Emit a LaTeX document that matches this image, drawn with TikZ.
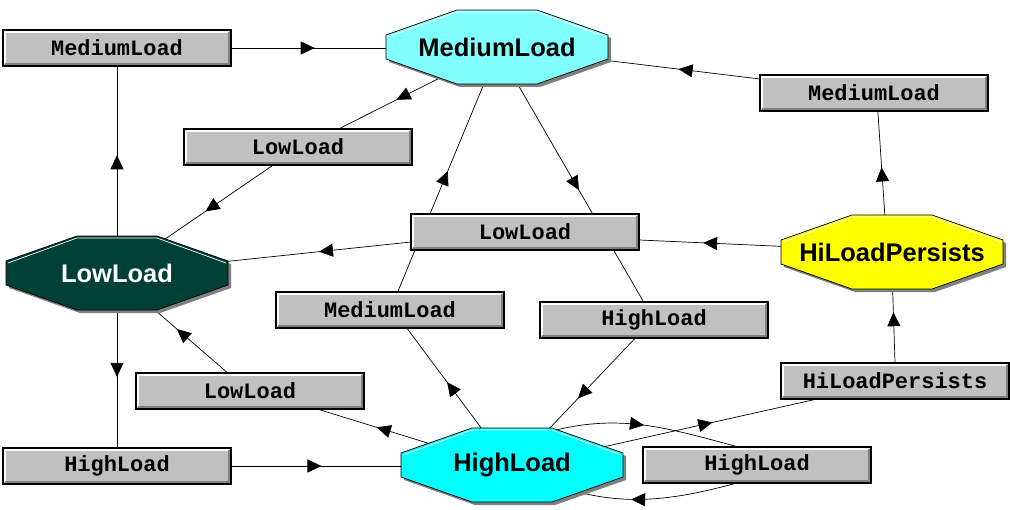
\documentclass[tikz,border=0pt]{standalone}
\usepackage{fontspec}
\usepackage{xcolor}
\usepackage{tikz}
\usetikzlibrary{backgrounds,arrows.meta,decorations.markings}

\newfontfamily\statefamily{Liberation Sans}
\newfontfamily\boxfamily{Liberation Mono}
\definecolor{medcyan}{RGB}{128,255,255}
\definecolor{highcyan}{RGB}{0,255,255}
\definecolor{lowgreen}{RGB}{0,64,56}
\definecolor{hiyellow}{RGB}{255,255,0}
\definecolor{boxgray}{RGB}{192,192,192}
\definecolor{shadegray}{RGB}{128,128,128}

\begin{document}
\begin{tikzpicture}[
        x=0.02cm, y=-0.02cm,
        every node/.style={inner sep=0pt, outer sep=0pt},
        state/.style={minimum width=3.2cm, minimum height=0.68cm, font=\statefamily\bfseries\fontsize{14.5}{16}\selectfont},
        trans/.style={draw, line width=0.8pt, fill=boxgray, minimum width=4.56cm, minimum height=0.72cm,
            font=\boxfamily\bfseries\fontsize{12.5}{14}\selectfont,
            path picture={
                \draw[white, line width=1pt] ([shift={(2,-2)}]path picture bounding box.south west) |- ([shift={(-2,2)}]path picture bounding box.north east);
                \draw[shadegray, line width=1.4pt] ([shift={(2,-2)}]path picture bounding box.south west) -| ([shift={(-2,2)}]path picture bounding box.north east);
            }},
        midarrow/.style={postaction={decorate, decoration={markings, mark=at position #1 with {\arrow{Triangle[length=0.28cm, width=0.26cm]}}}}},
    ]
    \useasboundingbox (0,0) rectangle (1010,510);

    \node[state] (medium) at (497,47) {MediumLoad};
    \node[state, text=white] (low) at (117,273) {LowLoad};
    \node[state] (hipers) at (892,252) {HiLoadPersists};
    \node[state] (high) at (512,465) {HighLoad};

    \node[trans] (med1) at (117,48) {MediumLoad};
    \node[trans] (low1) at (298,147) {LowLoad};
    \node[trans] (med2) at (874,93) {MediumLoad};
    \node[trans] (low2) at (525,232) {LowLoad};
    \node[trans] (med3) at (390,310) {MediumLoad};
    \node[trans] (high1) at (654,320) {HighLoad};
    \node[trans] (low3) at (250,391) {LowLoad};
    \node[trans] (high2) at (117,466) {HighLoad};
    \node[trans] (hip1) at (895,381) {HiLoadPersists};
    \node[trans] (high3) at (757,465) {HighLoad};

    \begin{scope}[on background layer, line width=0.6pt]
        \draw[midarrow=0.53] (low.north) -- (med1.south);
        \draw[midarrow=0.45] (med1.east) -- (medium.west |- med1.east);
        \draw[midarrow=0.55] (medium.210) -- (low1.24);
        \draw[midarrow=0.51] (low1.216) -- (low.36);
        \draw[midarrow=0.545] (hipers.109) -- (med2.-78);
        \draw[midarrow=0.445] (med2.173) -- (medium.-7);
        \draw[midarrow=0.6] (hipers.177) -- (low2.-4);
        \draw[midarrow=0.43] (low2.185) -- (low.6);
        \draw[midarrow=0.55] (high.133) -- (med3.-47);
        \draw[midarrow=0.53] (med3.67) -- (medium.254);
        \draw[midarrow=0.53] (medium.-62) -- (high1.120);
        \draw[midarrow=0.55] (high1.224) -- (high.42);
        \draw[midarrow=0.53] (high.166) -- (low3.-15);
        \draw[midarrow=0.53] (low3.141) -- (low.-49);
        \draw[midarrow=0.55] (low.south) -- (high2.north);
        \draw[midarrow=0.45] (high2.east) -- (high.west |- high2.east);
        \draw[midarrow=0.535] (high.11) -- (hip1.193);
        \draw[midarrow=0.54] (hip1.north) -- (hipers.south);
        \draw[midarrow=0.5] ([shift={(36,-33)}]high.center) to[out=15, in=165] (high3.136);
        \draw[midarrow=0.55] (high3.-138) to[out=-165, in=-20] (high.-27);

        \foreach \s/\c in {medium/medcyan, low/lowgreen, hipers/hiyellow, high/highcyan}{
            \fill[shadegray] ([shift={(-37,-34)}]\s.center) \foreach \vx/\vy in {43/-34, 114/-9, 114/15, 43/40, -37/40, -108/15, -108/-9}{ -- ([shift={(\vx,\vy)}]\s.center)} -- cycle;
            \filldraw[fill=\c, draw=black] ([shift={(-40,-37)}]\s.center) \foreach \vx/\vy in {40/-37, 111/-12, 111/12, 40/37, -40/37, -111/12, -111/-12}{ -- ([shift={(\vx,\vy)}]\s.center)} -- cycle;
            \draw[white] ([shift={(-109,-10)}]\s.center) -- ([shift={(-40,-35)}]\s.center) -- ([shift={(40,-35)}]\s.center) -- ([shift={(109,-10)}]\s.center);
        }
    \end{scope}
\end{tikzpicture}
\end{document}
